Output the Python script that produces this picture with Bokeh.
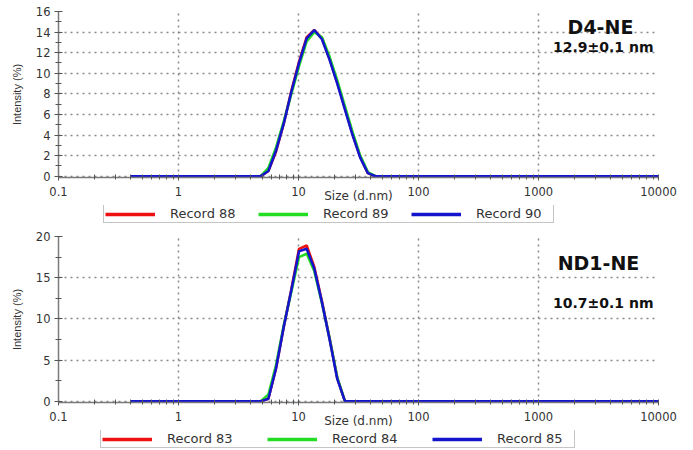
from bokeh.plotting import figure
from bokeh.models import (Range1d, FixedTicker, SingleIntervalTicker, Legend, LegendItem,
                          Label, CustomJSTickFormatter)
from bokeh.layouts import column
from bokeh.embed import file_html
from bokeh.resources import INLINE

# ---------------- data ----------------
size_nm = [0.4, 4.85, 5.61, 6.50, 7.53, 8.72, 10.10, 11.70, 13.54, 15.69,
           18.17, 21.04, 24.36, 28.21, 32.67, 37.84, 43.82, 10000]

# D4-NE
rec88 = [0, 0, 0.5, 2.4, 5.1, 8.3, 11.1, 13.5, 14.2, 13.4, 11.4, 9.1, 6.6, 4.1, 1.9, 0.3, 0, 0]
rec89 = [0, 0, 0.8, 2.8, 5.3, 8.0, 10.7, 13.1, 14.0, 13.5, 11.6, 9.3, 6.8, 4.3, 2.0, 0.4, 0, 0]
rec90 = [0, 0, 0.5, 2.5, 5.1, 8.2, 11.0, 13.4, 14.2, 13.3, 11.3, 9.0, 6.5, 4.0, 1.8, 0.3, 0, 0]

# ND1-NE
rec83 = [0, 0, 0.3, 4.0, 9.0, 13.6, 18.5, 18.9, 16.3, 12.1, 7.6, 2.8, 0, 0, 0, 0, 0, 0]
rec84 = [0, 0, 0.8, 4.4, 9.2, 13.3, 17.5, 17.9, 15.8, 11.9, 7.6, 2.9, 0, 0, 0, 0, 0, 0]
rec85 = [0, 0, 0.3, 4.0, 9.0, 13.5, 18.2, 18.5, 16.1, 12.0, 7.5, 2.7, 0, 0, 0, 0, 0, 0]

x_ticks = [0.1, 1, 10, 100, 1000, 10000]
x_minor = [m * 10.0 ** k for k in range(-1, 4) for m in range(2, 10)]

top_labels = ["Record 88", "Record 89", "Record 90"]
bot_labels = ["Record 83", "Record 84", "Record 85"]
colors = ["#ee1111", "#22dd22", "#1414cc"]

FONT = "DejaVu Sans"
TXT = "#333333"
W = 685
LEFT = 58
FRAME_W = 600


def make_panel(series, ymax, yint, height, border_top, border_bottom,
               title, value_txt, title_pos, value_pos):
    p = figure(width=W, height=height,
               x_axis_type="log", x_range=Range1d(0.1, 10000),
               y_range=Range1d(-ymax * 0.008, ymax),
               output_backend="svg", toolbar_location=None,
               min_border_left=LEFT, min_border_right=W - LEFT - FRAME_W,
               min_border_top=border_top, min_border_bottom=border_bottom)
    p.outline_line_color = None
    p.background_fill_color = "white"
    p.border_fill_color = "white"

    for g in (p.xgrid, p.ygrid):
        g.grid_line_color = "#8a8a8a"
        g.grid_line_dash = "2 4"
        g.grid_line_width = 1.5
    p.ygrid.ticker = SingleIntervalTicker(interval=yint)

    xa = p.xaxis[0]
    xa.ticker = FixedTicker(ticks=x_ticks, minor_ticks=x_minor)
    xa.formatter = CustomJSTickFormatter(code="return tick.toString();")
    xa.axis_line_color = "#7a7a7a"
    xa.axis_line_width = 1.5
    xa.major_tick_line_color = "#555555"
    xa.minor_tick_line_color = "#555555"
    xa.major_tick_in = 3
    xa.major_tick_out = 3
    xa.minor_tick_in = 3
    xa.minor_tick_out = 2
    xa.major_label_standoff = 6
    xa.major_label_text_font = FONT
    xa.major_label_text_font_size = "11.5px"
    xa.major_label_text_color = TXT
    xa.axis_label = "Size (d.nm)"
    xa.axis_label_text_font = FONT
    xa.axis_label_text_font_style = "normal"
    xa.axis_label_text_font_size = "12px"
    xa.axis_label_text_color = TXT
    xa.axis_label_standoff = -10

    ya = p.yaxis[0]
    ya.ticker = SingleIntervalTicker(interval=yint, num_minor_ticks=2)
    ya.axis_line_color = "#7a7a7a"
    ya.axis_line_width = 1.5
    ya.major_tick_line_color = "#555555"
    ya.minor_tick_line_color = "#555555"
    ya.major_tick_in = 4
    ya.major_tick_out = 4
    ya.minor_tick_in = 3
    ya.minor_tick_out = 3
    ya.major_label_standoff = 4
    ya.major_label_text_font = FONT
    ya.major_label_text_font_size = "11.5px"
    ya.major_label_text_color = TXT
    ya.axis_label = "Intensity (%)"
    ya.axis_label_text_font = "Liberation Sans"
    ya.axis_label_text_font_style = "normal"
    ya.axis_label_text_font_size = "11px"
    ya.axis_label_text_color = TXT
    ya.axis_label_standoff = 10

    for ys, col in zip(series, colors):
        p.line(size_nm, ys, line_color=col, line_width=2.6)

    p.add_layout(Label(x=title_pos[0], y=title_pos[1], x_units="screen", y_units="screen",
                       text=title, text_align="center", text_baseline="alphabetic",
                       text_font=FONT, text_font_style="bold", text_font_size="19px",
                       text_color="#111111"))
    p.add_layout(Label(x=value_pos[0], y=value_pos[1], x_units="screen", y_units="screen",
                       text=value_txt, text_align="right", text_baseline="alphabetic",
                       text_font=FONT, text_font_style="bold", text_font_size="14px",
                       text_color="#111111"))
    return p


def make_legend(series, labels, height, loc, spacing):
    # legend strip: the series lines are drawn outside the visible y range,
    # only their legend entries show
    q = figure(width=W, height=height, x_range=Range1d(0.1, 10000), x_axis_type="log",
               y_range=Range1d(1000, 1001),
               output_backend="svg", toolbar_location=None,
               x_axis_location=None, y_axis_location=None,
               min_border_left=LEFT, min_border_right=W - LEFT - FRAME_W,
               min_border_top=0, min_border_bottom=0)
    q.outline_line_color = None
    q.xgrid.visible = False
    q.ygrid.visible = False
    q.background_fill_color = "white"
    q.border_fill_color = "white"
    items = []
    for ys, lab, col in zip(series, labels, colors):
        r = q.line(size_nm, ys, line_color=col, line_width=3.5)
        items.append(LegendItem(label=lab, renderers=[r]))
    leg = Legend(items=items, orientation="horizontal", location=loc,
                 glyph_width=50, glyph_height=10, label_standoff=15, label_width=76,
                 spacing=spacing, padding=1, margin=0,
                 label_text_font=FONT, label_text_font_size="13px",
                 label_text_color=TXT, label_height=10,
                 border_line_color="#8c8c8c", border_line_width=1.5,
                 background_fill_color="white", background_fill_alpha=1.0)
    q.add_layout(leg, "center")
    return q


p1 = make_panel([rec88, rec89, rec90], 16, 2, height=205, border_top=11, border_bottom=27,
                title="D4-NE", value_txt="12.9\u00b10.1 nm",
                title_pos=(542, 151), value_pos=(595, 131))
l1 = make_legend([rec88, rec89, rec90], top_labels, 19, (45, 1), 12)

p2 = make_panel([rec83, rec84, rec85], 20, 5, height=206, border_top=12, border_bottom=27,
                title="ND1-NE", value_txt="10.7\u00b10.1 nm",
                title_pos=(540, 140), value_pos=(595, 100))
l2 = make_legend([rec83, rec84, rec85], bot_labels, 19, (42, 1), 24)

layout = column(p1, l1, p2, l2, spacing=0)
open("out.html", "w").write(file_html(layout, INLINE))
